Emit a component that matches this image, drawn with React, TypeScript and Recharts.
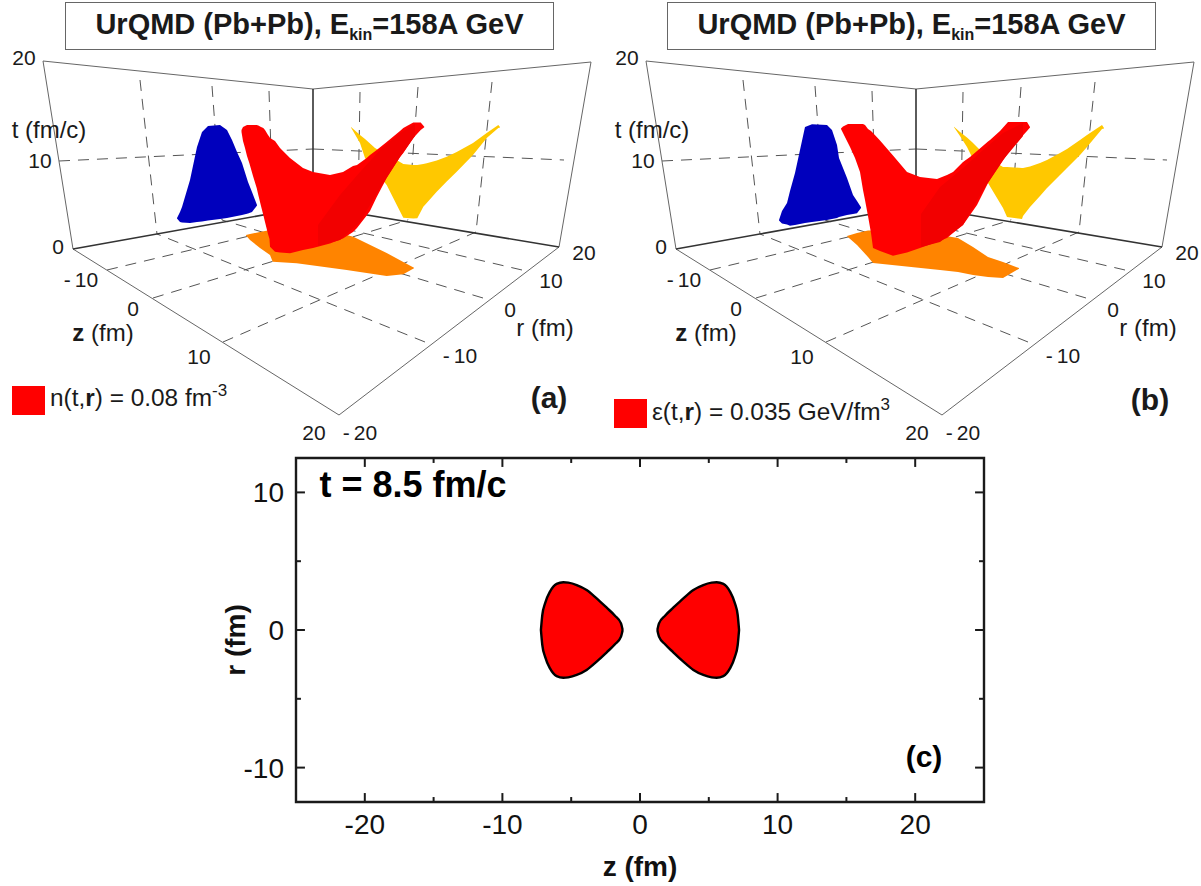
import type { CSSProperties, ReactNode } from 'react';
import { Area, ComposedChart, Line, ReferenceArea, ReferenceLine, XAxis, YAxis } from 'recharts';

const FONT = '"Liberation Sans", Arial, sans-serif';
const PANEL_B_SHIFT = 603;

type Outline = [number, number, number][];
type Segment = [number, number][];

const blueA: Outline = [
  [177, 218, 218.5], [180, 212, 222], [182, 207, 222.5], [190, 180, 223], [197, 147, 222], [202, 132, 221.5],
  [208, 126, 220.5], [220, 125, 219], [227, 130, 218], [232, 140, 217], [237, 152, 216], [242, 163, 215],
  [248, 182, 213.5], [252, 192, 212], [257, 205, 205.5],
];
const redA: Outline = [
  [241.5, 130, 132], [243, 127, 141], [245, 126, 148], [247, 125, 156], [249.3, 125, 163], [253, 125, 176],
  [256.7, 125, 188], [258.3, 125.5, 195], [261, 127, 206], [263.3, 128, 215], [265, 130, 222], [268, 135, 234],
  [269.5, 137, 239], [270, 138, 246.7], [275, 141, 251.7], [280, 148, 252.5], [290, 158, 253.3], [303, 168, 250],
  [313, 172, 248], [330, 175, 243.5], [343, 172, 238.5], [353, 166, 232], [357, 165, 228], [366.7, 158, 215.5],
  [370, 155, 211], [376.7, 150, 197], [386.7, 142, 178], [400, 131, 157], [403.3, 128, 153], [413.3, 122.5, 138],
  [420.7, 122.5, 130], [424.3, 126.7, 127.2],
];
const redShadeA: Outline = [
  [318, 225, 246], [340, 195, 240], [360, 172, 222], [380, 150, 188], [400, 133, 157], [415, 124, 136],
];
const yellowA: Outline = [
  [351, 127, 127.5], [360, 135, 143], [365, 139, 158], [375, 148, 170], [386.7, 155, 185], [398.3, 161, 208],
  [403.3, 164, 217.7], [413.3, 165, 218.5], [417.3, 165, 218.3], [423.3, 164, 206.7], [426.7, 163.3, 203],
  [436.7, 160.5, 191.7], [446.7, 156.7, 181.5], [456.7, 152, 171.7], [473, 143, 155], [486.7, 133, 138],
  [498.3, 125, 128], [500, 127, 127.5],
];
const orangeA: Outline = [
  [246, 235, 235.5], [250, 234, 240], [260, 232, 248], [270, 230, 255], [272.7, 230, 261.7], [296.7, 232, 263.3],
  [346.7, 235, 270], [353.3, 236.7, 271], [386.7, 253, 276], [403.3, 262, 274.3], [414, 267.7, 268.2],
];

const blueB: Outline = [
  [176, 220, 220.5], [179, 211, 223.5], [184, 203, 224.5], [187, 191, 225.7], [192, 173, 225], [197, 150, 224],
  [202, 127, 223], [209, 124.3, 222], [224, 125, 220], [229, 130, 219], [234, 145, 218], [236, 158, 217],
  [244, 178, 215], [250, 195, 214], [254, 201, 213.3], [258, 207.3, 208],
];
const redB: Outline = [
  [238, 128.5, 129], [240, 126.5, 133], [245, 124, 143], [247, 124, 147], [252, 124, 158], [257, 124, 172],
  [260, 124, 190], [262, 125, 200], [265, 129, 216], [268, 131, 233], [270, 133, 248], [277, 140.5, 251],
  [290, 155.5, 255.7], [304, 172, 252.5], [317, 177, 248], [334, 179, 242], [344, 175, 238], [350, 172, 233],
  [360, 162, 225], [367, 157, 215], [374, 151, 205], [385, 141.5, 183], [387, 140, 180], [397, 131, 165],
  [405, 122, 153], [414, 122, 142], [424, 122, 131], [427, 127, 127.6],
];
const redShadeB: Outline = [
  [318, 214, 247], [337, 187, 242], [360, 168, 225], [380, 150, 190], [400, 133, 160], [420, 123, 136],
];
const yellowB: Outline = [
  [351, 126.7, 127.2], [357, 132, 136], [364, 137.5, 147], [369, 142, 157], [377, 150, 166], [385, 158, 183],
  [400, 167, 208], [404, 167, 217], [419, 168, 219], [420, 168, 216], [427, 166.5, 207], [437, 163, 196],
  [444, 160, 188], [457, 153, 175], [464, 149, 168], [477, 140, 155], [484, 135, 147], [499, 125, 129],
  [501, 128, 128.5],
];
const orangeB: Outline = [
  [244, 236, 236.3], [254, 233, 245], [265, 230.5, 257], [270, 230.5, 263], [337, 235, 270], [355, 238, 272],
  [370, 247, 275], [385, 257, 277], [400, 262, 278], [416, 268, 268.8],
];

// wireframe of the box, same units
const boxEdges: Segment[] = [
  [[43, 61], [313, 89]], [[313, 89], [591, 62]], [[43, 61], [73, 249]], [[591, 62], [559, 247]],
  [[73, 249], [339, 415]], [[339, 415], [559, 247]],
];
const backEdges: Segment[] = [[[73, 249], [313, 206]], [[313, 206], [559, 247]], [[313, 89], [313, 206]]];
const gridLines: Segment[] = [
  [[140, 80], [157, 234]], [[212, 86], [222, 220]], [[269, 91], [273, 212]],
  [[360, 92], [358, 210]], [[418, 87], [408, 220]], [[492, 82], [476, 232]],
  [[59, 161], [313, 149]], [[313, 149], [564, 160]],
  [[107, 270], [358, 210]], [[153, 298], [408, 220]], [[223, 342], [476, 232]],
  [[425, 342], [157, 234]], [[483, 298], [222, 220]], [[522, 270], [273, 212]],
];

const tLabels = ['20', '10', '0'];
const zLabels = ['-10', '0', '10', '20'];
const rLabels = ['-20', '-10', '0', '10', '20'];

// panel (c)
const lobeZ = [1.26, 1.38, 1.82, 2.42, 3.15, 3.88, 4.6, 5.21, 5.57, 6.06, 6.54, 6.9, 7.1, 7.2];
const lobeR = [0, 0.48, 1.04, 1.62, 2.3, 2.91, 3.27, 3.44, 3.47, 3.35, 2.79, 1.94, 1.09, 0];
const zTicks = [-20, -10, 0, 10, 20];
const zMinorTicks = [-15, -5, 5, 15];
const rTicks = [-10, 0, 10];
const rMinorTicks = [-5, 5];

const rightLobe = lobeZ.map((z, i) => ({ z, r: [-lobeR[i], lobeR[i]] }));
const leftLobe = lobeZ.map((z, i) => ({ z: -z, r: [-lobeR[i], lobeR[i]] })).reverse();

function toRows(outline: Outline) {
  return outline.map(([u, upper, lower]) => ({ u, v: [upper, lower] }));
}

function toPoints(segment: Segment) {
  return segment.map(([u, v]) => ({ u, v }));
}

function Txt({ x, y, size = 21, bold, rotate, color = '#1a1a1a', children }: { x: number; y: number; size?: number; bold?: boolean; rotate?: number; color?: string; children: ReactNode }) {
  const style: CSSProperties = {
    position: 'absolute',
    left: x,
    top: y,
    transform: `translate(-50%, -50%)${rotate ? ` rotate(${rotate}deg)` : ''}`,
    fontSize: size,
    fontWeight: bold ? 700 : 400,
    lineHeight: 1,
    whiteSpace: 'nowrap',
    color,
  };
  return <div style={style}>{children}</div>;
}

function SpacedTick({ label }: { label: string }) {
  if (!label.startsWith('-')) return <>{label}</>;
  return (
    <>
      <span style={{ marginRight: 4 }}>-</span>
      {label.slice(1)}
    </>
  );
}

function Blob({ rows, fill }: { rows: Outline; fill: string }) {
  return <Area data={toRows(rows)} dataKey="v" type="linear" fill={fill} fillOpacity={1} stroke="none" dot={false} activeDot={false} zIndex={500} isAnimationActive={false} />;
}

function Box3D({ left, blue, red, shade, yellow, orange }: { left: number; blue: Outline; red: Outline; shade: Outline; yellow: Outline; orange: Outline }) {
  const tPos = [[24, 57], [40, 160], [58, 246]];
  const zPos = [[81, 279], [133, 308], [199, 356], [314, 432]];
  const rPos = [[360, 432], [460, 355], [510, 309], [551, 280], [584, 252]];
  return (
    <div style={{ position: 'absolute', left, top: 0, width: 600, height: 450 }}>
      <ComposedChart width={600} height={450} margin={{ top: 0, right: 0, bottom: 0, left: 0 }}>
        <XAxis type="number" dataKey="u" domain={[0, 600]} hide />
        <YAxis type="number" domain={[0, 450]} reversed hide />
        {gridLines.map((s, i) => (
          <Line key={`g${i}`} data={toPoints(s)} dataKey="v" stroke="#555" strokeWidth={1} strokeDasharray="11 8" dot={false} activeDot={false} isAnimationActive={false} />
        ))}
        {boxEdges.map((s, i) => (
          <Line key={`b${i}`} data={toPoints(s)} dataKey="v" stroke="#666" strokeWidth={1} dot={false} activeDot={false} isAnimationActive={false} />
        ))}
        {backEdges.map((s, i) => (
          <Line key={`k${i}`} data={toPoints(s)} dataKey="v" stroke="#333" strokeWidth={1.6} dot={false} activeDot={false} isAnimationActive={false} />
        ))}
        {Blob({ rows: orange, fill: '#ff8400' })}
        {Blob({ rows: blue, fill: '#0000bd' })}
        {Blob({ rows: yellow, fill: '#ffc800' })}
        {Blob({ rows: red, fill: '#ff0000' })}
        {Blob({ rows: shade, fill: '#f20000' })}
      </ComposedChart>
      {tLabels.map((t, i) => (
        <Txt key={t} x={tPos[i][0]} y={tPos[i][1]}>{t}</Txt>
      ))}
      {zLabels.map((t, i) => (
        <Txt key={t} x={zPos[i][0]} y={zPos[i][1]}><SpacedTick label={t} /></Txt>
      ))}
      {rLabels.map((t, i) => (
        <Txt key={t} x={rPos[i][0]} y={rPos[i][1]}><SpacedTick label={t} /></Txt>
      ))}
      <Txt x={49} y={130} size={24}>t (fm/c)</Txt>
      <Txt x={103} y={333} size={24}><b>z</b> (fm)</Txt>
      <Txt x={545} y={328} size={24}>r (fm)</Txt>
    </div>
  );
}

function TitleBox({ left }: { left: number }) {
  return (
    <div
      style={{
        position: 'absolute',
        left,
        top: 2,
        width: 487,
        height: 46,
        border: '1px solid #666',
        textAlign: 'center',
        fontWeight: 700,
        fontSize: 29,
        lineHeight: '42px',
        color: '#1a1a1a',
        whiteSpace: 'nowrap',
      }}
    >
      UrQMD (Pb+Pb), E<span style={{ fontSize: 16, position: 'relative', top: 6 }}>kin</span>=158A GeV
    </div>
  );
}

function LegendSwatch({ left, top }: { left: number; top: number }) {
  return <div style={{ position: 'absolute', left, top, width: 33, height: 29, background: '#ff0000' }} />;
}

function LegendText({ left, top, children }: { left: number; top: number; children: ReactNode }) {
  return (
    <div style={{ position: 'absolute', left, top, fontSize: 24.4, lineHeight: '28px', whiteSpace: 'nowrap', color: '#1a1a1a' }}>
      {children}
    </div>
  );
}

function Sup({ children }: { children: ReactNode }) {
  return <span style={{ fontSize: 17, position: 'relative', top: -10 }}>{children}</span>;
}

function SliceChart() {
  const MAJOR = 0.65;
  const MINOR = 0.36;
  const zMarks = [...zTicks.map((z) => [z, MAJOR]), ...zMinorTicks.map((z) => [z, MINOR])];
  const rMarks = [...rTicks.map((r) => [r, MAJOR]), ...rMinorTicks.map((r) => [r, MINOR])];
  return (
    <div style={{ position: 'absolute', left: 220, top: 440 }}>
      <ComposedChart width={780} height={446} margin={{ top: 18, right: 16, bottom: 20, left: 0 }}>
        <XAxis
          type="number"
          dataKey="z"
          domain={[-25, 25]}
          ticks={zTicks}
          height={64}
          axisLine={false}
          tickLine={false}
          tickSize={0}
          tickMargin={12}
          tick={{ fontSize: 28, fill: '#111' }}
        />
        <YAxis
          type="number"
          domain={[-12.5, 12.5]}
          ticks={rTicks}
          width={76}
          axisLine={false}
          tickLine={false}
          tickSize={0}
          tickMargin={12}
          tick={{ fontSize: 28, fill: '#111' }}
        />
        <Area data={leftLobe} dataKey="r" type="monotone" fill="#ff0000" fillOpacity={1} stroke="#000" strokeWidth={2.4} dot={false} activeDot={false} isAnimationActive={false} />
        <Area data={rightLobe} dataKey="r" type="monotone" fill="#ff0000" fillOpacity={1} stroke="#000" strokeWidth={2.4} dot={false} activeDot={false} isAnimationActive={false} />
        {zMarks.map(([z, len]) => (
          <ReferenceLine key={`zb${z}`} segment={[{ x: z, y: -12.5 }, { x: z, y: -12.5 + len }]} stroke="#1a1a1a" strokeWidth={2} />
        ))}
        {zMarks.map(([z, len]) => (
          <ReferenceLine key={`zt${z}`} segment={[{ x: z, y: 12.5 }, { x: z, y: 12.5 - len }]} stroke="#1a1a1a" strokeWidth={2} />
        ))}
        {rMarks.map(([r, len]) => (
          <ReferenceLine key={`rl${r}`} segment={[{ x: -25, y: r }, { x: -25 + len, y: r }]} stroke="#1a1a1a" strokeWidth={2} />
        ))}
        {rMarks.map(([r, len]) => (
          <ReferenceLine key={`rr${r}`} segment={[{ x: 25, y: r }, { x: 25 - len, y: r }]} stroke="#1a1a1a" strokeWidth={2} />
        ))}
        <ReferenceArea x1={-25} x2={25} y1={-12.5} y2={12.5} fill="none" stroke="#1a1a1a" strokeWidth={2.4} ifOverflow="visible" />
      </ComposedChart>
    </div>
  );
}

export default function App() {
  return (
    <div style={{ position: 'absolute', left: 0, top: 0, width: 1201, height: 886, overflow: 'hidden', background: '#fff', fontFamily: FONT }}>
      <Box3D left={0} blue={blueA} red={redA} shade={redShadeA} yellow={yellowA} orange={orangeA} />
      <Box3D left={PANEL_B_SHIFT} blue={blueB} red={redB} shade={redShadeB} yellow={yellowB} orange={orangeB} />
      <TitleBox left={65} />
      <TitleBox left={667} />

      <LegendSwatch left={12} top={386} />
      <LegendText left={50} top={384}>
        n(t,<b>r</b>) = 0.08 fm<Sup>-3</Sup>
      </LegendText>
      <Txt x={549} y={398} size={30} bold>(a)</Txt>

      <LegendSwatch left={614} top={399} />
      <LegendText left={652} top={398}>
        ε(t,<b>r</b>) = 0.035 GeV/fm<Sup>3</Sup>
      </LegendText>
      <Txt x={1150} y={400} size={30} bold>(b)</Txt>

      <SliceChart />
      <Txt x={413} y={485} size={36} bold color="#000">t = 8.5 fm/c</Txt>
      <Txt x={924} y={757} size={30} bold color="#000">(c)</Txt>
      <Txt x={640} y={867} size={28} bold color="#111">z (fm)</Txt>
      <Txt x={236} y={640} size={28} bold rotate={-90} color="#111">r (fm)</Txt>
    </div>
  );
}
